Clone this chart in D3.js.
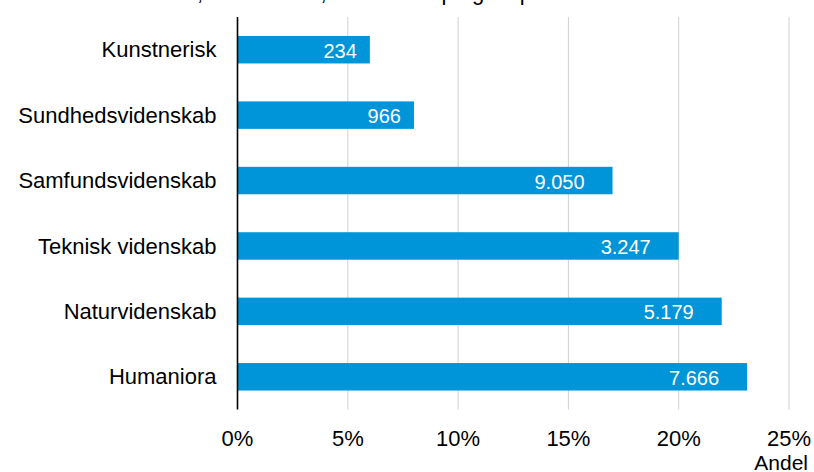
<!DOCTYPE html>
<meta charset="utf-8">
<style>
    body { margin: 0; background: #fff; }
    svg { display: block; font-family: "Liberation Sans", Arial, sans-serif; }
    .grid line { stroke: #d0d0d0; stroke-width: 1px; }
    .bar { fill: #0094d8; }
</style>
<svg width="814" height="472"></svg>
<script src="https://cdn.jsdelivr.net/npm/d3@7"></script>
<script>

    // data
    var categories = ["Kunstnerisk", "Sundhedsvidenskab", "Samfundsvidenskab", "Teknisk videnskab", "Naturvidenskab", "Humaniora"];
    var shares = [6.0, 8.0, 17.0, 20.0, 21.95, 23.1];          // Andel, in %
    var counts = [234, 966, 9050, 3247, 5179, 7666];           // bar labels
    var xTicks = [0, 5, 10, 15, 20, 25];
    var title = "Andel af studerende, der var ude, blandt de optaget i perioden 2015-2019";

    var data = categories.map(function(c, i) {
        return {name: c, share: shares[i], count: counts[i]};
    });

    var da = d3.formatLocale({decimal: ",", thousands: ".", grouping: [3], currency: ["", " kr."]});
    var fmt = da.format(",");

    var svg = d3.select("svg");

    var x = d3.scaleLinear().domain([0, 25]).range([237.5, 789]),
        y = d3.scaleBand().domain(categories).range([17, 409.5]).paddingInner(0.58).paddingOuter(0.29);

    // title (mostly cut off at the top in the reference)
    svg.append("text")
        .attr("x", 0)
        .attr("y", 0)
        .style("font-size", "22px")
        .attr("fill", "#000")
        .text(title);

    // vertical gridlines
    svg.append("g")
        .attr("class", "grid")
        .selectAll("line")
        .data(xTicks.slice(1))
        .enter().append("line")
        .attr("x1", function(d) { return x(d); })
        .attr("x2", function(d) { return x(d); })
        .attr("y1", 17)
        .attr("y2", 409.5);

    // bars
    svg.selectAll(".bar")
        .data(data)
        .enter().append("rect")
        .attr("class", "bar")
        .attr("x", x(0))
        .attr("y", function(d) { return y(d.name); })
        .attr("width", function(d) { return x(d.share) - x(0); })
        .attr("height", y.bandwidth());

    // value labels inside bar end
    svg.selectAll(".val")
        .data(data)
        .enter().append("text")
        .attr("class", "val")
        .attr("x", function(d) { var s = fmt(d.count); return x(d.share) - 13 - (s.length - 3) * 7.5; })
        .attr("y", function(d) { return y(d.name) + y.bandwidth() / 2; })
        .attr("dy", "0.4em")
        .attr("text-anchor", "end")
        .attr("fill", "#fff")
        .style("font-size", "20px")
        .text(function(d) { return fmt(d.count); });

    // category axis
    var yAxis = svg.append("g")
        .attr("transform", "translate(" + x(0) + ",0)")
        .call(d3.axisLeft(y).tickSize(0).tickPadding(21));
    yAxis.select(".domain").remove();
    yAxis.selectAll("text")
        .attr("fill", "#000")
        .attr("dy", "0.35em")
        .style("font-size", "22px")
        .style("font-family", "'Liberation Sans', Arial, sans-serif");

    svg.append("line")
        .attr("x1", x(0)).attr("x2", x(0))
        .attr("y1", 17).attr("y2", 409.5)
        .attr("stroke", "#000")
        .attr("stroke-width", 1.6);

    // x tick labels
    svg.append("g")
        .selectAll("text")
        .data(xTicks)
        .enter().append("text")
        .attr("x", function(d) { return x(d); })
        .attr("y", 446)
        .attr("text-anchor", "middle")
        .attr("fill", "#000")
        .style("font-size", "22px")
        .text(function(d) { return d + "%"; });

    svg.append("text")
        .attr("x", 808)
        .attr("y", 470)
        .attr("text-anchor", "end")
        .attr("fill", "#000")
        .style("font-size", "21px")
        .text("Andel");

</script>
